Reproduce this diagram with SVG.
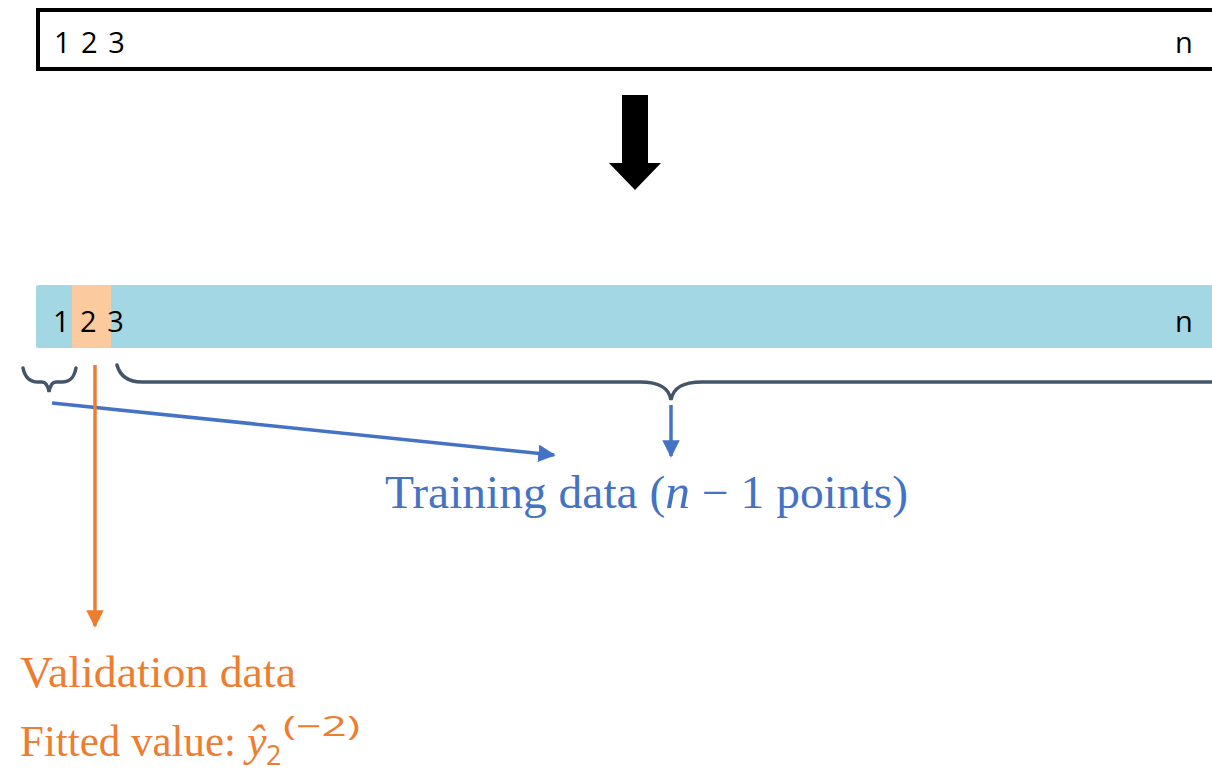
<svg xmlns="http://www.w3.org/2000/svg" width="1212" height="771" viewBox="0 0 1212 771">
  <defs>
    <style>
      .num { font-family: "Open Sans", "Noto Sans", sans-serif; font-size: 29px; fill: #000; word-spacing: 3px; }
      .serif { font-family: "Liberation Serif", "DejaVu Serif", serif; }
      .brace { fill: none; stroke: #44546A; stroke-width: 3.5; stroke-linecap: round; }
      .blue { stroke: #4472C4; stroke-width: 3.5; fill: none; }
      .orange { stroke: #ED7D31; stroke-width: 3.5; fill: none; }
      .sub { font-family: "Open Sans", "Noto Sans", sans-serif; font-size: 27px; fill: #ED7D31; }
    </style>
    <marker id="ah-blue" viewBox="0 0 10 10" refX="9" refY="5" markerWidth="5" markerHeight="5" orient="auto" markerUnits="strokeWidth">
      <path d="M0,0 L10,5 L0,10 Z" fill="#4472C4"/>
    </marker>
    <marker id="ah-orange" viewBox="0 0 10 10" refX="9" refY="5" markerWidth="5" markerHeight="5" orient="auto" markerUnits="strokeWidth">
      <path d="M0,0 L10,5 L0,10 Z" fill="#ED7D31"/>
    </marker>
  </defs>
  <rect width="1212" height="771" fill="#fff"/>

  <g id="full-data">
    <rect x="38" y="10" width="1190" height="59" fill="#fff" stroke="#000" stroke-width="4"/>
    <text class="num" x="54" y="53">1 2 3</text>
    <text class="num" x="1175" y="53">n</text>
  </g>

  <g id="down-arrow">
    <polygon points="622,95 648,95 648,163 661,163 635,190 609,163 622,163" fill="#000"/>
  </g>

  <g id="split-data">
    <rect x="36" y="285" width="1190" height="63" rx="2" fill="#A3D7E3"/>
    <rect x="72" y="285" width="39" height="63" rx="2" fill="#FBCB9F"/>
    <text class="num" x="53" y="332">1 2 3</text>
    <text class="num" x="1175" y="332">n</text>
  </g>

  <g id="braces">
    <path class="brace" d="M23,368 C25,378 30,382 38,382 L42,382 C46,382 48,386 49,392 C50,386 52,382 56,382 L62,382 C70,382 74,378 76,368"/>
    <path class="brace" d="M117,365 C120,376 128,382 142,382 L640,382 C660,382 669,388 671,400 C673,388 682,382 702,382 L1214,382"/>
  </g>

  <g id="connectors">
    <line class="blue" x1="671" y1="405" x2="671" y2="456" marker-end="url(#ah-blue)"/>
    <line class="blue" x1="52" y1="403" x2="554" y2="455" marker-end="url(#ah-blue)"/>
    <line class="orange" x1="95" y1="365" x2="95" y2="626" marker-end="url(#ah-orange)"/>
  </g>

  <g id="training-label">
    <text class="serif" x="385" y="508" font-size="46" fill="#4472C4" textLength="523" lengthAdjust="spacingAndGlyphs">Training data (<tspan font-style="italic" font-size="48">n</tspan> − 1 points)</text>
  </g>

  <g id="validation-label">
    <text class="serif" x="20" y="687" font-size="45" fill="#ED7D31" textLength="276" lengthAdjust="spacingAndGlyphs">Validation data</text>
    <text class="serif" x="20" y="756" font-size="44" fill="#ED7D31" textLength="216" lengthAdjust="spacingAndGlyphs">Fitted value:</text>
    <text class="serif" x="247" y="756" font-size="44" font-style="italic" fill="#ED7D31">ŷ</text>
    <text class="sub" x="266" y="765">2</text>
    <text class="sub" x="283" y="736" font-size="31" textLength="77" lengthAdjust="spacingAndGlyphs">(−2)</text>
  </g>
</svg>
